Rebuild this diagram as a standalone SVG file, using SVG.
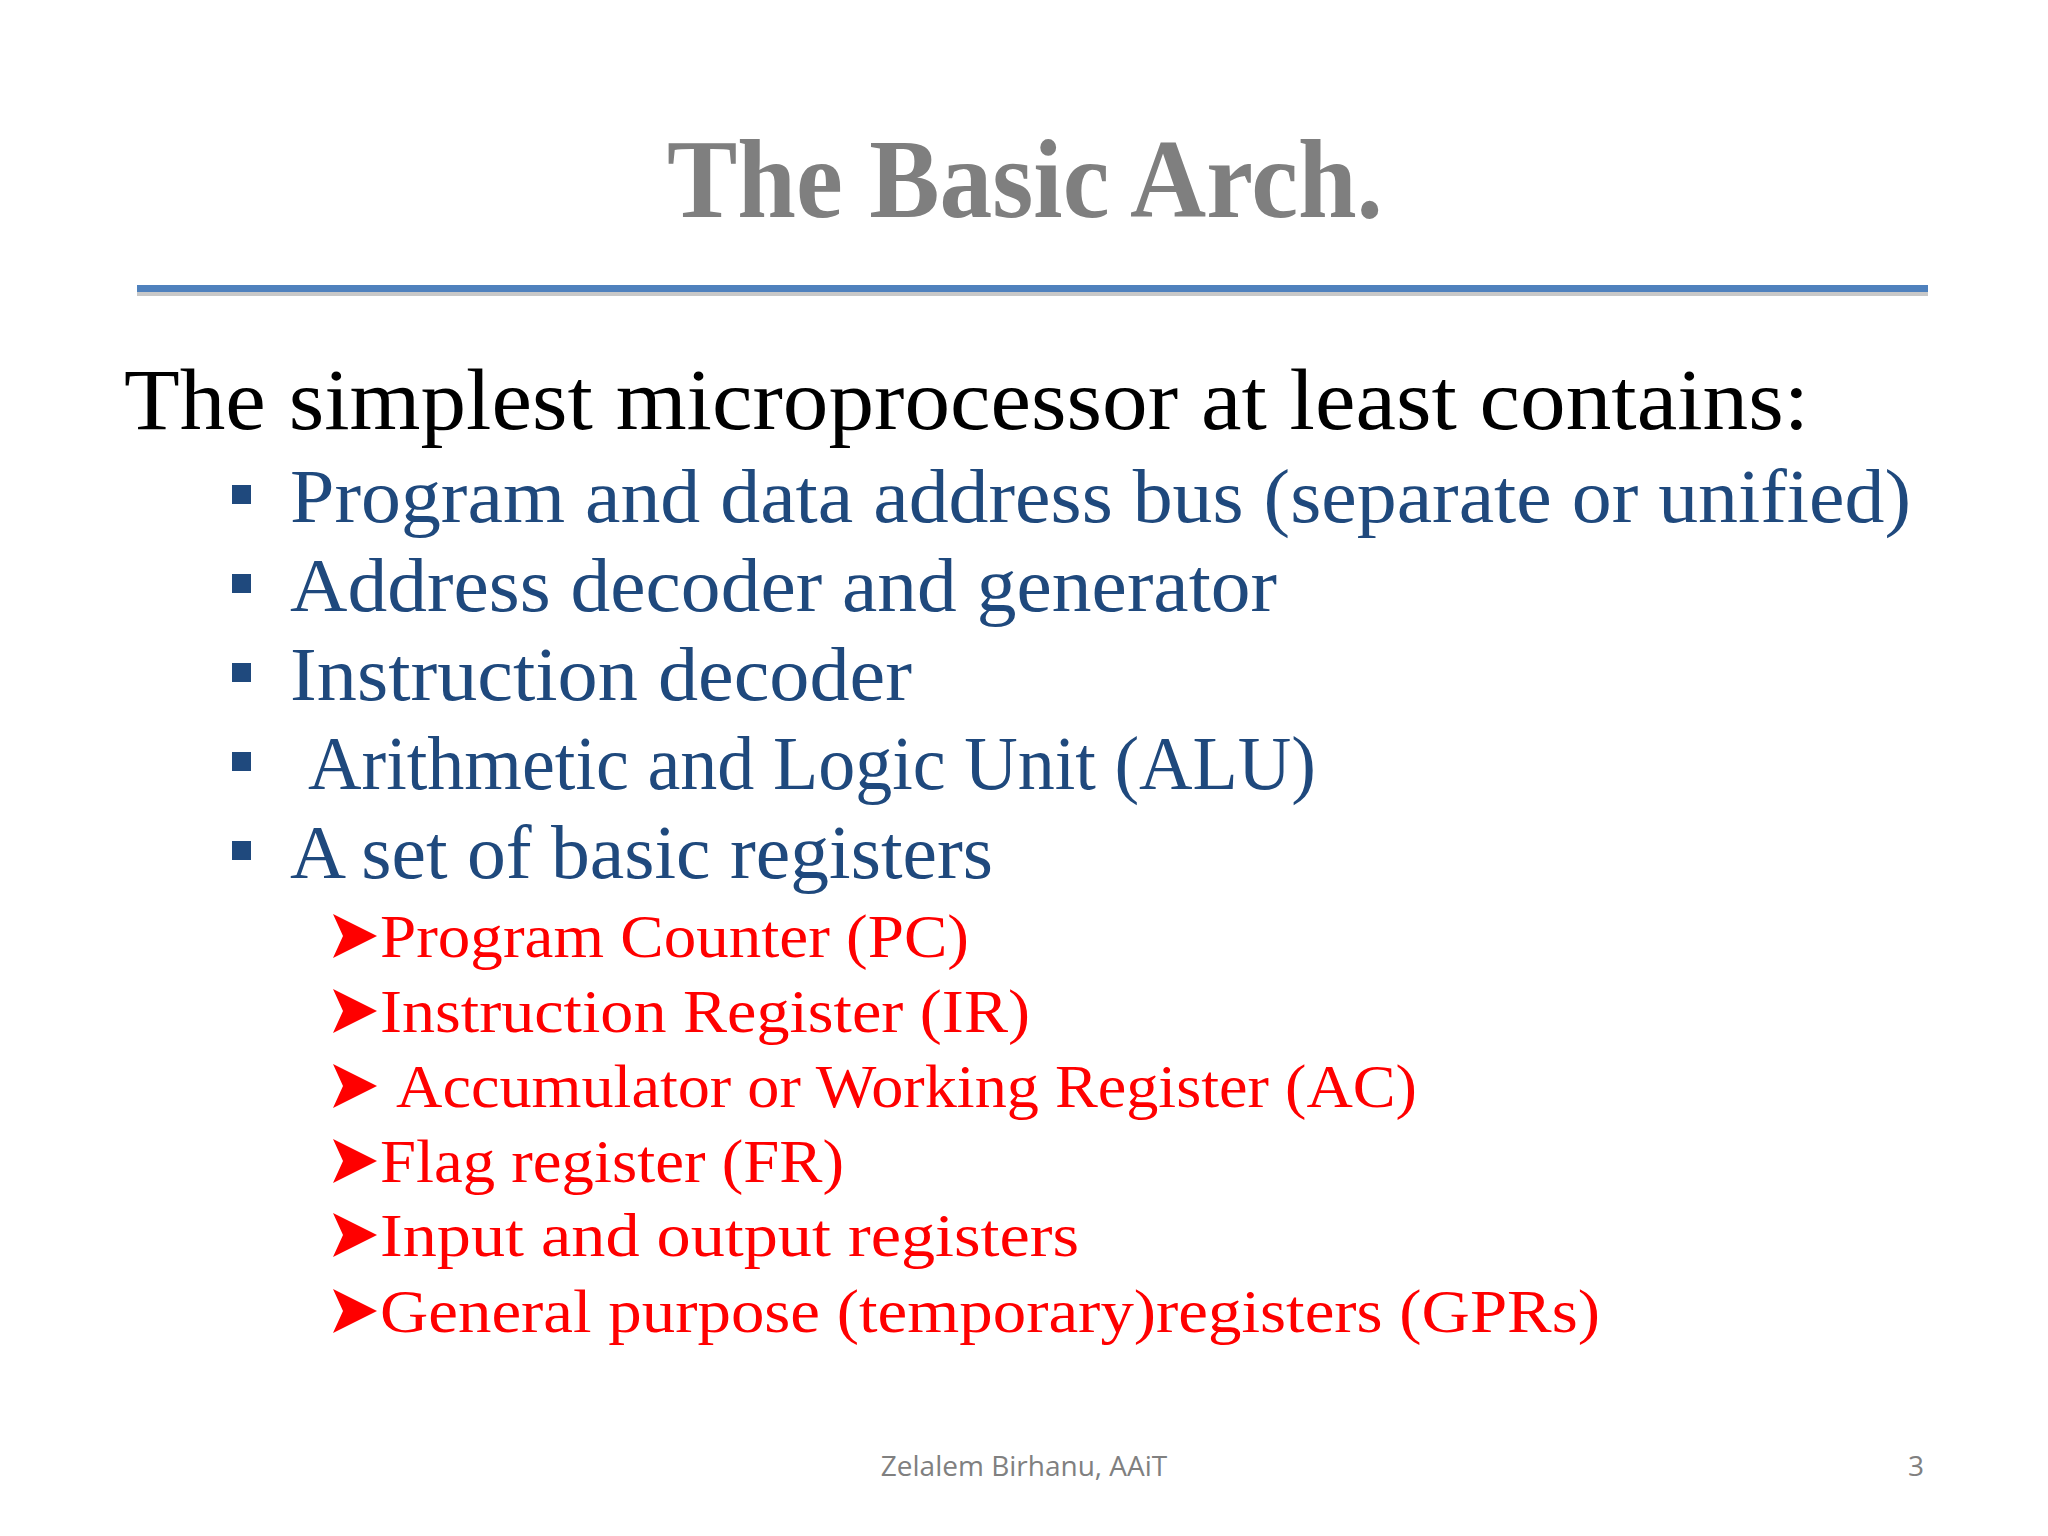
<svg xmlns="http://www.w3.org/2000/svg" width="2048" height="1536" viewBox="0 0 2048 1536">
<defs>
<style>
.t{font-family:"Liberation Serif","DejaVu Serif",serif}
.b{fill:#1f497d;font-size:76px}
.r{fill:#ff0000;font-size:62px}
.f{font-family:"Open Sans","DejaVu Sans",sans-serif;fill:#808080;font-size:28px}
</style>
<polygon id="ar" points="0,-22 44,0 0,22 10,0" fill="#ff0000"/>
</defs>
<rect width="2048" height="1536" fill="#ffffff"/>
<text class="t" x="1025" y="217" text-anchor="middle" font-size="112" font-weight="bold" fill="#7f7f7f" textLength="716" lengthAdjust="spacingAndGlyphs">The Basic Arch.</text>
<rect x="137" y="291" width="1791" height="5" fill="#c8c8c8"/>
<rect x="137" y="285" width="1791" height="7" fill="#4f81bd"/>
<text class="t" x="124" y="429" font-size="86" fill="#000" textLength="1685" lengthAdjust="spacingAndGlyphs">The simplest microprocessor at least contains:</text>
<g fill="#1f497d">
<rect x="232" y="485" width="19" height="19"/>
<rect x="232" y="574" width="19" height="19"/>
<rect x="232" y="663" width="19" height="19"/>
<rect x="232" y="752" width="19" height="19"/>
<rect x="232" y="841" width="19" height="19"/>
</g>
<text class="t b" x="290" y="522" textLength="1621" lengthAdjust="spacingAndGlyphs">Program and data address bus (separate or unified)</text>
<text class="t b" x="290" y="611" textLength="987" lengthAdjust="spacingAndGlyphs">Address decoder and generator</text>
<text class="t b" x="290" y="700" textLength="622" lengthAdjust="spacingAndGlyphs">Instruction decoder</text>
<text class="t b" x="308" y="789" textLength="1008" lengthAdjust="spacingAndGlyphs">Arithmetic and Logic Unit (ALU)</text>
<text class="t b" x="290" y="878" textLength="703" lengthAdjust="spacingAndGlyphs">A set of basic registers</text>
<use href="#ar" x="333" y="936"/>
<use href="#ar" x="333" y="1011"/>
<use href="#ar" x="333" y="1086"/>
<use href="#ar" x="333" y="1161"/>
<use href="#ar" x="333" y="1235"/>
<use href="#ar" x="333" y="1311"/>
<text class="t r" x="380" y="957" textLength="589" lengthAdjust="spacingAndGlyphs">Program Counter (PC)</text>
<text class="t r" x="380" y="1032" textLength="650" lengthAdjust="spacingAndGlyphs">Instruction Register (IR)</text>
<text class="t r" x="396" y="1107" textLength="1021" lengthAdjust="spacingAndGlyphs">Accumulator or Working Register (AC)</text>
<text class="t r" x="380" y="1182" textLength="464" lengthAdjust="spacingAndGlyphs">Flag register (FR)</text>
<text class="t r" x="380" y="1256" textLength="699" lengthAdjust="spacingAndGlyphs">Input and output registers</text>
<text class="t r" x="380" y="1332" textLength="1220" lengthAdjust="spacingAndGlyphs">General purpose (temporary)registers (GPRs)</text>
<text class="f" x="1024" y="1476" text-anchor="middle">Zelalem Birhanu, AAiT</text>
<text class="f" x="1916" y="1476" text-anchor="middle">3</text>
</svg>
